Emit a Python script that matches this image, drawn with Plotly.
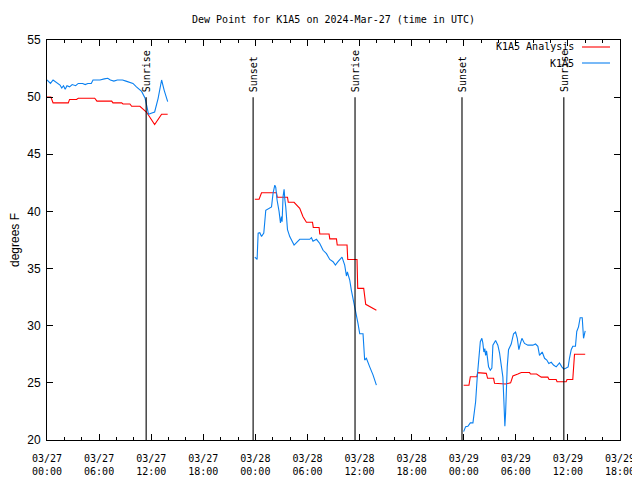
import pandas as pd
import plotly.graph_objects as go

BASE = pd.Timestamp("2024-03-27 00:00")

# Hours since 2024-03-27 00:00 UTC, and dew point (F), per segment
an_h1 = [0.0, 0.45, 0.7, 2.45, 2.6, 3.4, 3.6, 5.5, 5.75, 7.45, 7.6, 8.6, 8.75, 9.55, 9.75, 10.7, 11.45, 12.4, 13.2, 13.9]
an_v1 = [50.0, 50.0, 49.5, 49.5, 49.8, 49.8, 49.9, 49.9, 49.65, 49.65, 49.5, 49.5, 49.4, 49.4, 49.2, 49.2, 48.7, 47.6, 48.5, 48.5]
an_h2 = [23.94, 24.43, 24.71, 26.43, 26.52, 27.7, 27.79, 28.46, 29.11, 29.49, 29.88, 30.58, 30.67, 31.34, 31.42, 32.49, 32.57, 33.34, 33.43, 34.56, 34.64, 35.71, 35.79, 36.48, 36.71, 37.17, 37.94]
an_v2 = [41.06, 41.06, 41.64, 41.64, 41.24, 41.24, 40.8, 40.8, 40.27, 39.54, 39.05, 39.05, 38.6, 38.6, 38.03, 38.03, 37.6, 37.6, 37.06, 37.06, 35.8, 35.8, 33.27, 33.27, 31.87, 31.7, 31.35]
an_h3 = [47.99, 48.6, 48.76, 49.52, 49.6, 50.02, 50.17, 50.6, 50.75, 51.44, 51.55, 52.5, 52.8, 53.4, 53.66, 54.24, 54.63, 55.58, 55.7, 56.39, 56.93, 57.69, 57.83, 58.65, 58.75, 59.8, 59.9, 60.56, 60.76, 61.99]
an_v3 = [24.79, 24.79, 25.54, 25.54, 25.89, 25.89, 25.83, 25.83, 25.4, 25.4, 24.96, 24.96, 24.9, 25.0, 25.6, 25.77, 25.9, 25.9, 25.77, 25.77, 25.5, 25.5, 25.3, 25.3, 25.1, 25.1, 25.3, 25.3, 27.5, 27.5]

ob_h1 = [0.0, 0.4, 0.7, 1.1, 1.5, 1.7, 1.9, 2.1, 2.3, 2.6, 2.9, 3.3, 3.6, 4.1, 4.4, 4.7, 5.1, 5.3, 5.6, 6.1, 6.6, 7.0, 7.3, 7.7, 8.1, 8.7, 9.1, 9.9, 10.3, 10.9, 11.3, 11.5, 11.7, 12.0, 12.4, 12.8, 13.2, 13.5, 13.9]
ob_v1 = [51.5, 51.2, 51.5, 51.3, 51.06, 50.8, 51.0, 50.7, 51.0, 50.9, 51.1, 51.0, 51.2, 51.2, 51.1, 51.2, 51.2, 51.5, 51.5, 51.5, 51.6, 51.65, 51.5, 51.4, 51.5, 51.5, 51.4, 51.2, 50.9, 50.5, 49.9, 49.3, 48.5, 48.6, 48.7, 49.9, 51.5, 50.6, 49.6]
ob_h2 = [23.94, 24.2, 24.32, 24.51, 24.71, 24.97, 25.2, 25.66, 25.86, 26.04, 26.24, 26.35, 26.5, 26.73, 26.89, 27.01, 27.08, 27.19, 27.31, 27.39, 27.5, 27.7, 27.96, 28.46, 29.11, 30.26, 30.46, 30.64, 31.04, 31.42, 31.8, 32.19, 32.57, 32.95, 33.22, 33.52, 33.98, 34.29, 34.49, 34.6, 34.87, 35.06, 35.25, 35.44, 35.64, 35.82, 36.02, 36.4, 36.59, 36.79, 37.17, 37.55, 37.94]
ob_v2 = [36.0, 35.8, 38.1, 38.14, 37.8, 38.1, 40.1, 40.27, 40.4, 41.6, 42.3, 42.1, 41.0, 40.0, 39.0, 39.54, 39.1, 41.3, 41.93, 41.1, 40.4, 38.4, 37.8, 37.06, 37.56, 37.56, 37.7, 37.4, 37.56, 37.2, 36.6, 36.3, 35.8, 35.6, 35.3, 35.6, 36.0, 35.3, 34.35, 34.7, 34.0, 33.1, 32.4, 31.7, 31.1, 30.2, 29.3, 29.3, 27.0, 27.15, 26.4, 25.7, 24.8]
ob_h3 = [47.99, 48.22, 48.48, 48.76, 49.06, 49.17, 49.37, 49.56, 49.75, 49.91, 50.09, 50.2, 50.32, 50.43, 50.52, 50.63, 50.86, 51.06, 51.24, 51.36, 51.67, 51.93, 52.13, 52.33, 52.51, 52.62, 52.74, 52.82, 52.9, 53.01, 53.16, 53.47, 53.74, 53.97, 54.17, 54.35, 54.51, 54.7, 55.0, 55.39, 55.96, 56.27, 56.54, 56.73, 57.04, 57.31, 57.57, 57.8, 58.08, 58.34, 58.65, 59.03, 59.3, 59.53, 59.8, 60.03, 60.18, 60.38, 60.56, 60.87, 61.02, 61.22, 61.41, 61.65, 61.8, 61.91, 61.99]
ob_v3 = [20.73, 21.17, 21.2, 21.5, 21.5, 22.3, 23.35, 25.54, 27.0, 28.6, 28.9, 28.5, 27.7, 28.0, 27.4, 27.8, 26.4, 26.1, 26.3, 28.3, 28.7, 28.3, 27.6, 26.7, 25.5, 23.5, 21.2, 22.3, 24.66, 26.4, 27.9, 28.4, 29.3, 29.45, 28.9, 27.9, 28.4, 28.9, 28.45, 28.3, 28.3, 28.4, 28.2, 27.4, 27.7, 27.15, 27.0, 26.7, 26.8, 26.56, 26.4, 26.75, 26.4, 26.2, 26.3, 26.4, 27.15, 27.9, 28.2, 28.2, 29.5, 29.9, 30.7, 30.7, 28.9, 29.3, 29.54]

sun_labels = ["Sunrise", "Sunset", "Sunrise", "Sunset", "Sunrise"]
sun_hours = [11.42, 23.74, 35.48, 47.8, 59.53]

tick_hours = [0, 6, 12, 18, 24, 30, 36, 42, 48, 54, 60, 66]
tick_text = ["03/27<br>00:00", "03/27<br>06:00", "03/27<br>12:00", "03/27<br>18:00",
             "03/28<br>00:00", "03/28<br>06:00", "03/28<br>12:00", "03/28<br>18:00",
             "03/29<br>00:00", "03/29<br>06:00", "03/29<br>12:00", "03/29<br>18:00"]


def to_t(hours):
    return [BASE + pd.Timedelta(hours=h) for h in hours]


def join(*segs):
    xs, ys = [], []
    for i, (h, v) in enumerate(segs):
        if i:
            xs.append(None)
            ys.append(None)
        xs += to_t(h)
        ys += v
    return xs, ys


MONO = "DejaVu Sans Mono"
RED = "#ff0000"
BLUE = "#0a80f0"
OFF = 8  # page body margin
W, H = 640 - OFF, 480 - OFF
L, R, T, B = 47 - OFF, 620 - OFF, 40 - OFF, 440 - OFF
PW, PH = R - L, B - T

fig = go.Figure()
ax, ay = join((an_h1, an_v1), (an_h2, an_v2), (an_h3, an_v3))
bx, by = join((ob_h1, ob_v1), (ob_h2, ob_v2), (ob_h3, ob_v3))
fig.add_trace(go.Scatter(x=ax, y=ay, mode="lines", line=dict(color=RED, width=1.1),
                         name="K1A5 Analysis", connectgaps=False, showlegend=False))
fig.add_trace(go.Scatter(x=bx, y=by, mode="lines", line=dict(color=BLUE, width=1.1),
                         name="K1A5", connectgaps=False, showlegend=False))

for lab, h in zip(sun_labels, sun_hours):
    t = BASE + pd.Timedelta(hours=h)
    fig.add_shape(type="line", xref="x", yref="y", x0=t, x1=t, y0=20, y1=50,
                  line=dict(color="black", width=1.1))
    fig.add_annotation(x=t, y=50, xref="x", yref="y", text=lab, textangle=-90,
                       showarrow=False, xanchor="center", yanchor="bottom", yshift=3,
                       font=dict(family=MONO, size=10, color="black"))

# legend (gnuplot style: text then sample line)
for i, (name, col) in enumerate([("K1A5 Analysis", RED), ("K1A5", BLUE)]):
    yp = 1 - (7 + 16 * i) / PH
    fig.add_annotation(x=(576 - OFF - L) / PW, y=yp, xref="paper", yref="paper", text=name,
                       showarrow=False, xanchor="right", yanchor="middle",
                       font=dict(family=MONO, size=10, color="black"))
    fig.add_shape(type="line", xref="paper", yref="paper",
                  x0=(582 - OFF - L) / PW, x1=(610 - OFF - L) / PW, y0=yp, y1=yp,
                  line=dict(color=col, width=1.1))

# y axis title
fig.add_annotation(x=(15 - OFF - L) / PW, y=0.5, xref="paper", yref="paper", text="degrees F",
                   textangle=-90, showarrow=False, xanchor="center", yanchor="middle",
                   font=dict(family="Liberation Sans", size=12, color="black"))

fig.update_layout(
    width=W, height=H,
    margin=dict(l=L, r=W - R, t=T, b=H - B, pad=0, autoexpand=False),
    paper_bgcolor="white", plot_bgcolor="white",
    title=dict(text="Dew Point for K1A5 on 2024-Mar-27 (time in UTC)", x=(L + R) / 2 / W,
               xanchor="center", y=1 - (19 - OFF) / H, yanchor="middle", automargin=False,
               font=dict(family=MONO, size=10, color="black")),
    showlegend=False,
)
fig.update_xaxes(
    type="date", automargin=False,
    range=[BASE, BASE + pd.Timedelta(hours=66)],
    tickvals=to_t(tick_hours), ticktext=tick_text, ticklabelstandoff=9,
    ticks="inside", ticklen=6, tickcolor="black", showline=True, linecolor="black",
    linewidth=1, mirror="allticks", showgrid=False, zeroline=False,
    tickfont=dict(family=MONO, size=10, color="black"),
    minor=dict(tickvals=to_t(list(range(0, 67, 2))), ticks="inside", ticklen=3,
               tickcolor="black", showgrid=False),
)
fig.update_yaxes(
    range=[20, 55], tickvals=[20, 25, 30, 35, 40, 45, 50, 55], automargin=False,
    ticks="inside", ticklen=6, tickcolor="black", showline=True, linecolor="black",
    linewidth=1, mirror="allticks", showgrid=False, zeroline=False, ticklabelstandoff=3,
    tickfont=dict(family="Liberation Sans", size=12, color="black"),
)

fig.write_html("out.html")
